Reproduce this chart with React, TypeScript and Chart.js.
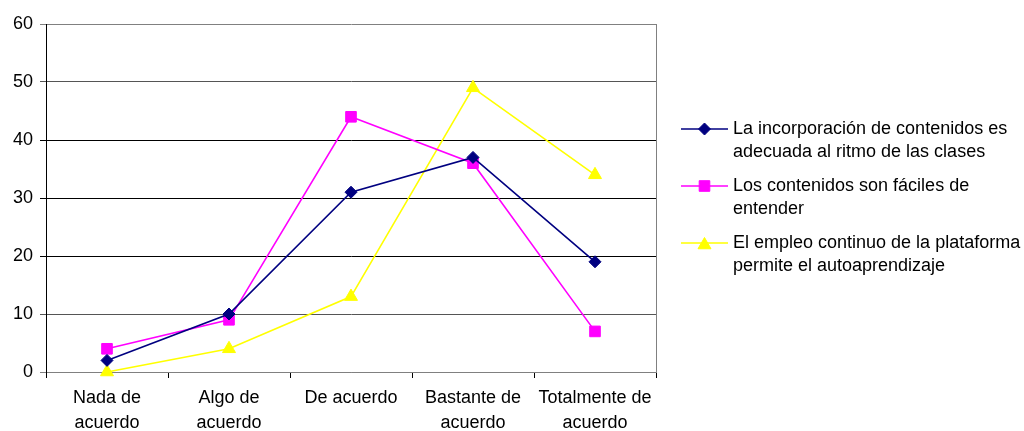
import React, { useEffect, useRef } from "react";
import { Chart, registerables } from "chart.js";
import { drawPoint } from "chart.js/helpers";

Chart.register(...registerables);

// Response categories (x axis), split into display lines
const categories: string[][] = [
  ["Nada de", "acuerdo"],
  ["Algo de", "acuerdo"],
  ["De acuerdo"],
  ["Bastante de", "acuerdo"],
  ["Totalmente de", "acuerdo"],
];

// Series names, split into legend lines
const seriesNames: string[][] = [
  ["La incorporación de contenidos es", "adecuada al ritmo de las clases"],
  ["Los contenidos son fáciles de", "entender"],
  ["El empleo continuo de la plataforma", "permite el autoaprendizaje"],
];

// Counts per category for each statement
const incorporacion = [2, 10, 31, 37, 19];
const faciles = [4, 9, 44, 36, 7];
const autoaprendizaje = [0, 4, 13, 49, 34];

// Y axis range
const yMin = 0;
const yMax = 60;
const yStep = 10;

const FONT = "'Liberation Sans', Arial, sans-serif";

// Legend at the right of the plot, with wrapped labels
const sideLegend = {
  id: "sideLegend",
  afterDraw(chart: any) {
    const { ctx, chartArea } = chart;
    const x0 = chartArea.right + 25;
    const x1 = chartArea.right + 72;
    const textX = chartArea.right + 77;
    const rowTops = [129, 186, 243];
    const lineGap = 23;
    ctx.save();
    ctx.font = `18px ${FONT}`;
    ctx.fillStyle = "#000";
    ctx.textBaseline = "middle";
    ctx.textAlign = "left";
    chart.data.datasets.forEach((ds: any, i: number) => {
      const y = rowTops[i];
      ctx.beginPath();
      ctx.strokeStyle = ds.borderColor;
      ctx.lineWidth = ds.borderWidth;
      ctx.moveTo(x0, y);
      ctx.lineTo(x1, y);
      ctx.stroke();
      ctx.fillStyle = ds.pointBackgroundColor;
      ctx.strokeStyle = ds.pointBorderColor;
      ctx.lineWidth = 1;
      drawPoint(
        ctx,
        { pointStyle: ds.pointStyle, radius: ds.pointRadius, rotation: 0, borderWidth: 1 },
        (x0 + x1) / 2,
        ds.pointStyle === "triangle" ? y + 2 : y
      );
      ctx.fillStyle = "#000";
      const lines: string[] = ds.legendLines;
      lines.forEach((t, k) => ctx.fillText(t, textX, y + k * lineGap));
    });
    // right border of the plot area
    ctx.beginPath();
    ctx.strokeStyle = "#808080";
    ctx.lineWidth = 1;
    const rx = Math.round(chartArea.right) + 0.5;
    ctx.moveTo(rx, chartArea.top);
    ctx.lineTo(rx, chartArea.bottom);
    ctx.stroke();
    ctx.restore();
  },
};

export default function App() {
  const ref = useRef<HTMLCanvasElement | null>(null);

  useEffect(() => {
    if (!ref.current) return;
    const mk = (
      data: number[],
      color: string,
      style: string,
      radius: number,
      names: string[]
    ) => ({
      label: names.join(" "),
      legendLines: names,
      data,
      borderColor: color,
      backgroundColor: color,
      pointBackgroundColor: color,
      pointBorderColor: color,
      borderWidth: 1.6,
      pointStyle: style,
      pointRadius: radius,
      pointBorderWidth: 1,
      tension: 0,
      clip: false as any,
    });

    const chart = new Chart(ref.current, {
      type: "line",
      data: {
        labels: categories,
        datasets: [
          mk(incorporacion, "#000080", "rectRot", 6, seriesNames[0]),
          mk(faciles, "#FF00FF", "rect", 7.5, seriesNames[1]),
          mk(autoaprendizaje, "#FFFF00", "triangle", 7.5, seriesNames[2]),
        ] as any,
      },
      options: {
        responsive: false,
        animation: false,
        layout: { padding: { top: 24, right: 368, left: 0, bottom: 0 } },
        plugins: {
          legend: { display: false },
          tooltip: { enabled: false },
        },
        scales: {
          x: {
            offset: true,
            grid: {
              offset: true,
              drawOnChartArea: false,
              drawTicks: true,
              tickLength: 6,
              color: "#000",
            },
            border: { display: true, color: "#808080" },
            ticks: {
              color: "#000",
              font: { family: FONT, size: 18, lineHeight: 25 / 18 },
              padding: 8,
              maxRotation: 0,
              autoSkip: false,
            },
            afterFit: (s: any) => {
              s.height = 59;
            },
          },
          y: {
            min: yMin,
            max: yMax,
            ticks: {
              stepSize: yStep,
              color: "#000",
              font: { family: FONT, size: 18 },
              padding: 7,
            },
            grid: {
              tickLength: 6,
              color: (c: any) => {
                const v = c.tick ? c.tick.value : 0;
                if (v === 0 || v === 60) return "#808080";
                if (v === 10 || v === 50) return "#555";
                return "#000";
              },
            },
            border: { display: true, color: "#000" },
            afterFit: (s: any) => {
              s.width = 46;
            },
          },
        },
      },
      plugins: [sideLegend],
    });
    return () => chart.destroy();
  }, []);

  return (
    <div style={{ position: "fixed", left: 0, top: 0, width: 1024, height: 431, background: "#fff" }}>
      <canvas ref={ref} width={1024} height={431} style={{ display: "block" }} />
    </div>
  );
}
